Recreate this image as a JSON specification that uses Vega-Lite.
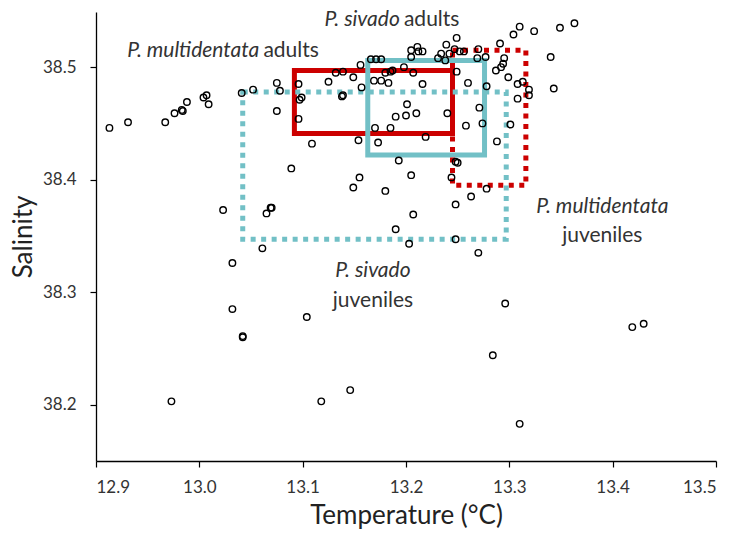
{
  "$schema": "https://vega.github.io/schema/vega-lite/v6.json",
  "width": 620,
  "height": 449,
  "autosize": {"type": "none"},
  "padding": {"left": 96, "top": 12, "right": 22, "bottom": 74},
  "background": "white",
  "config": {
    "view": {"stroke": null},
    "font": "Lato",
    "axis": {
      "grid": false,
      "domainColor": "#000000",
      "domainWidth": 1.3,
      "tickColor": "#000000",
      "tickWidth": 1.2,
      "tickSize": 6,
      "labelFont": "Lato",
      "labelFontWeight": 400,
      "labelFontSize": 17,
      "labelColor": "#333333",
      "titleFont": "Lato",
      "titleFontWeight": 400,
      "titleFontSize": 26,
      "titleColor": "#222222"
    }
  },
  "datasets": {
    "points": [
      {"T": 12.913, "S": 38.446}, {"T": 12.931, "S": 38.451}, {"T": 12.967, "S": 38.451}, {"T": 12.976, "S": 38.459},
      {"T": 12.984, "S": 38.461}, {"T": 12.983, "S": 38.462}, {"T": 12.988, "S": 38.469}, {"T": 13.004, "S": 38.473},
      {"T": 13.007, "S": 38.475}, {"T": 13.009, "S": 38.467}, {"T": 13.041, "S": 38.477}, {"T": 13.052, "S": 38.480},
      {"T": 13.075, "S": 38.486}, {"T": 13.075, "S": 38.461}, {"T": 13.078, "S": 38.479}, {"T": 13.096, "S": 38.485},
      {"T": 13.097, "S": 38.471}, {"T": 13.099, "S": 38.473}, {"T": 13.096, "S": 38.454}, {"T": 13.109, "S": 38.432},
      {"T": 13.089, "S": 38.410}, {"T": 13.125, "S": 38.487}, {"T": 13.132, "S": 38.495}, {"T": 13.139, "S": 38.496},
      {"T": 13.139, "S": 38.475}, {"T": 13.149, "S": 38.491}, {"T": 13.156, "S": 38.502}, {"T": 13.157, "S": 38.482},
      {"T": 13.166, "S": 38.507}, {"T": 13.171, "S": 38.507}, {"T": 13.176, "S": 38.507}, {"T": 13.169, "S": 38.488},
      {"T": 13.176, "S": 38.488}, {"T": 13.183, "S": 38.486}, {"T": 13.180, "S": 38.495}, {"T": 13.185, "S": 38.496},
      {"T": 13.187, "S": 38.497}, {"T": 13.198, "S": 38.500}, {"T": 13.201, "S": 38.467}, {"T": 13.205, "S": 38.515},
      {"T": 13.207, "S": 38.495}, {"T": 13.211, "S": 38.518}, {"T": 13.212, "S": 38.514}, {"T": 13.216, "S": 38.514},
      {"T": 13.205, "S": 38.509}, {"T": 13.216, "S": 38.485}, {"T": 13.231, "S": 38.508}, {"T": 13.238, "S": 38.506},
      {"T": 13.234, "S": 38.512}, {"T": 13.242, "S": 38.512}, {"T": 13.239, "S": 38.520}, {"T": 13.249, "S": 38.526},
      {"T": 13.247, "S": 38.516}, {"T": 13.252, "S": 38.514}, {"T": 13.256, "S": 38.514}, {"T": 13.249, "S": 38.496},
      {"T": 13.260, "S": 38.486}, {"T": 13.270, "S": 38.516}, {"T": 13.269, "S": 38.508}, {"T": 13.277, "S": 38.509},
      {"T": 13.278, "S": 38.483}, {"T": 13.291, "S": 38.521}, {"T": 13.295, "S": 38.508}, {"T": 13.294, "S": 38.503},
      {"T": 13.292, "S": 38.500}, {"T": 13.287, "S": 38.497}, {"T": 13.299, "S": 38.491}, {"T": 13.308, "S": 38.485},
      {"T": 13.313, "S": 38.487}, {"T": 13.319, "S": 38.480}, {"T": 13.319, "S": 38.475}, {"T": 13.308, "S": 38.472},
      {"T": 13.310, "S": 38.536}, {"T": 13.304, "S": 38.529}, {"T": 13.324, "S": 38.532}, {"T": 13.349, "S": 38.535},
      {"T": 13.363, "S": 38.539}, {"T": 13.340, "S": 38.509}, {"T": 13.343, "S": 38.481}, {"T": 13.138, "S": 38.474},
      {"T": 13.190, "S": 38.456}, {"T": 13.200, "S": 38.457}, {"T": 13.210, "S": 38.459}, {"T": 13.240, "S": 38.459},
      {"T": 13.271, "S": 38.464}, {"T": 13.274, "S": 38.450}, {"T": 13.258, "S": 38.448}, {"T": 13.301, "S": 38.449},
      {"T": 13.288, "S": 38.434}, {"T": 13.185, "S": 38.446}, {"T": 13.170, "S": 38.446}, {"T": 13.173, "S": 38.433},
      {"T": 13.154, "S": 38.435}, {"T": 13.219, "S": 38.438}, {"T": 13.193, "S": 38.417}, {"T": 13.248, "S": 38.416},
      {"T": 13.250, "S": 38.415}, {"T": 13.155, "S": 38.402}, {"T": 13.205, "S": 38.404}, {"T": 13.149, "S": 38.393},
      {"T": 13.180, "S": 38.390}, {"T": 13.244, "S": 38.402}, {"T": 13.278, "S": 38.392}, {"T": 13.263, "S": 38.385},
      {"T": 13.070, "S": 38.375}, {"T": 13.207, "S": 38.369}, {"T": 13.248, "S": 38.378}, {"T": 13.190, "S": 38.356},
      {"T": 13.203, "S": 38.343}, {"T": 13.248, "S": 38.347}, {"T": 13.270, "S": 38.335}, {"T": 13.296, "S": 38.290},
      {"T": 13.419, "S": 38.269}, {"T": 13.430, "S": 38.272}, {"T": 13.284, "S": 38.244}, {"T": 13.146, "S": 38.213},
      {"T": 13.310, "S": 38.183}, {"T": 13.023, "S": 38.373}, {"T": 13.065, "S": 38.370}, {"T": 13.069, "S": 38.375},
      {"T": 13.061, "S": 38.339}, {"T": 13.032, "S": 38.326}, {"T": 13.032, "S": 38.285}, {"T": 13.104, "S": 38.278},
      {"T": 13.042, "S": 38.260}, {"T": 13.042, "S": 38.261}, {"T": 12.973, "S": 38.203}, {"T": 13.118, "S": 38.203}
    ],
    "solidBoxes": [
      {"group": "P. multidentata adults", "T": 13.092, "T2": 13.245, "S": 38.441, "S2": 38.497, "colour": "red"},
      {"group": "P. sivado adults", "T": 13.163, "T2": 13.276, "S": 38.422, "S2": 38.506, "colour": "teal"}
    ],
    "dottedBoxes": [
      {"group": "P. multidentata juveniles", "T": 13.245, "T2": 13.316, "S": 38.395, "S2": 38.515, "colour": "red"},
      {"group": "P. sivado juveniles", "T": 13.042, "T2": 13.297, "S": 38.347, "S2": 38.478, "colour": "teal"}
    ],
    "italicRight": [
      {"T": 13.058, "S": 38.509, "label": "P. multidentata"},
      {"T": 13.194, "S": 38.537, "label": "P. sivado"}
    ],
    "plainLeft": [
      {"T": 13.062, "S": 38.509, "label": "adults"},
      {"T": 13.198, "S": 38.537, "label": "adults"}
    ],
    "italicCenter": [
      {"T": 13.390, "S": 38.370, "label": "P. multidentata"},
      {"T": 13.168, "S": 38.3137, "label": "P. sivado"}
    ],
    "plainCenter": [
      {"T": 13.390, "S": 38.345, "label": "juveniles"},
      {"T": 13.168, "S": 38.287, "label": "juveniles"}
    ]
  },
  "layer": [
    {
      "data": {"name": "solidBoxes"},
      "mark": {"type": "rect", "filled": false, "strokeWidth": 5},
      "encoding": {
        "x": {"field": "T", "type": "quantitative", "scale": {"domain": [12.9, 13.5], "nice": false, "zero": false}, "title": "Temperature (°C)",
              "axis": {"values": [12.9, 13.0, 13.1, 13.2, 13.3, 13.4, 13.5], "format": ".1f", "labelPadding": 12, "titlePadding": 7}},
        "x2": {"field": "T2"},
        "y": {"field": "S", "type": "quantitative", "scale": {"domain": [38.15, 38.549], "nice": false, "zero": false}, "title": "Salinity",
              "axis": {"values": [38.2, 38.3, 38.4, 38.5], "format": ".1f", "labelPadding": 14, "titlePadding": 6}},
        "y2": {"field": "S2"},
        "stroke": {"field": "colour", "type": "nominal", "scale": {"domain": ["red", "teal"], "range": ["#cc0000", "#72c0c6"]}, "legend": null}
      }
    },
    {
      "data": {"name": "dottedBoxes"},
      "mark": {"type": "rect", "filled": false, "strokeWidth": 5, "strokeDash": [5, 5.5]},
      "encoding": {
        "x": {"field": "T", "type": "quantitative", "title": "Temperature (°C)"},
        "x2": {"field": "T2"},
        "y": {"field": "S", "type": "quantitative", "title": "Salinity"},
        "y2": {"field": "S2"},
        "stroke": {"field": "colour", "type": "nominal", "legend": null}
      }
    },
    {
      "data": {"name": "points"},
      "mark": {"type": "point", "shape": "circle", "filled": false, "stroke": "#000000", "strokeWidth": 1.4, "size": 42, "opacity": 1},
      "encoding": {
        "x": {"field": "T", "type": "quantitative", "title": "Temperature (°C)"},
        "y": {"field": "S", "type": "quantitative", "title": "Salinity"}
      }
    },
    {
      "data": {"name": "italicRight"},
      "mark": {"type": "text", "font": "Lato", "fontWeight": 400, "fontStyle": "italic", "fontSize": 21, "color": "#333333", "baseline": "alphabetic", "align": "right"},
      "encoding": {
        "x": {"field": "T", "type": "quantitative", "title": "Temperature (°C)"},
        "y": {"field": "S", "type": "quantitative", "title": "Salinity"},
        "text": {"field": "label"}
      }
    },
    {
      "data": {"name": "plainLeft"},
      "mark": {"type": "text", "font": "Lato", "fontWeight": 400, "fontSize": 21, "color": "#333333", "baseline": "alphabetic", "align": "left"},
      "encoding": {
        "x": {"field": "T", "type": "quantitative", "title": "Temperature (°C)"},
        "y": {"field": "S", "type": "quantitative", "title": "Salinity"},
        "text": {"field": "label"}
      }
    },
    {
      "data": {"name": "italicCenter"},
      "mark": {"type": "text", "font": "Lato", "fontWeight": 400, "fontStyle": "italic", "fontSize": 21, "color": "#333333", "baseline": "alphabetic", "align": "center"},
      "encoding": {
        "x": {"field": "T", "type": "quantitative", "title": "Temperature (°C)"},
        "y": {"field": "S", "type": "quantitative", "title": "Salinity"},
        "text": {"field": "label"}
      }
    },
    {
      "data": {"name": "plainCenter"},
      "mark": {"type": "text", "font": "Lato", "fontWeight": 400, "fontSize": 21, "color": "#333333", "baseline": "alphabetic", "align": "center"},
      "encoding": {
        "x": {"field": "T", "type": "quantitative", "title": "Temperature (°C)"},
        "y": {"field": "S", "type": "quantitative", "title": "Salinity"},
        "text": {"field": "label"}
      }
    }
  ]
}
